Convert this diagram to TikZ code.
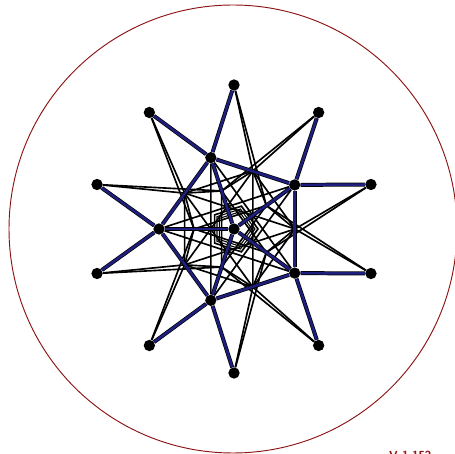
\documentclass[tikz,border=0pt]{standalone}
\usetikzlibrary{backgrounds}
\definecolor{rimred}{RGB}{140,20,20}
\definecolor{edgeblue}{RGB}{30,30,125}
\tikzset{
  vtx/.style={circle, fill=black, inner sep=0pt, minimum size=0.34cm},
  thinedge/.style={draw=black, line width=1.4pt},
  blueedge/.style={draw=black, double=edgeblue, double distance=2.2pt, line width=0.6pt},
}
\begin{document}
\begin{tikzpicture}[x=0.03cm, y=0.03cm]
\useasboundingbox (0,0) rectangle (454,454);
\begin{scope}[shift={(234,225)}]
	% vertices
	\foreach \j in {0,...,9} \node[vtx] (O\j) at (18+36*\j:144) {};
	\foreach \i in {0,...,4} \node[vtx] (P\i) at (36+72*\i:75) {};
	\node[vtx] (C) at (0,0) {};
	\foreach \i in {0,...,4} {
		\coordinate (M\i) at (72*\i:61);
		\coordinate (Q\i) at (36+72*\i:40);
	}
	\begin{scope}[on background layer]
		\draw[rimred, line width=0.8pt] (-1,0) circle (224);
		% black mesh
		\foreach \i [evaluate=\i as \a using {int(2*\i)},
		             evaluate=\i as \b using {int(mod(2*\i+9,10))},
		             evaluate=\i as \c using {int(mod(2*\i+1,10))},
		             evaluate=\i as \n using {int(mod(\i+1,5))},
		             evaluate=\i as \m using {int(mod(\i+2,5))},
		             evaluate=\i as \k using {int(mod(\i+4,5))}] in {0,...,4} {
			\draw[thinedge] (M\i) -- (O\a) (M\i) -- (O\b);
			\draw[thinedge] (P\i) -- (P\m) (M\i) -- (M\m) (M\i) -- (M\n);
			\draw[thinedge] (Q\i) -- (M\i) (Q\i) -- (M\n) (Q\i) -- (Q\m);
			\draw[thinedge] (O\c) -- (Q\n) (O\a) -- (Q\k);
		}
		% small pentagon round the centre
		\foreach \r/\w in {18/0.9pt, 21/0.9pt, 24/1.4pt}
			\draw[line width=\w] (0:\r) -- (72:\r) -- (144:\r) -- (216:\r) -- (288:\r) -- cycle;
		% blue frame
		\foreach \i [evaluate=\i as \a using {int(2*\i)},
		             evaluate=\i as \c using {int(2*\i+1)},
		             evaluate=\i as \n using {int(mod(\i+1,5))}] in {0,...,4} {
			\draw[blueedge] (C) -- (P\i);
			\draw[blueedge] (P\i) -- (P\n);
			\draw[blueedge] (P\i) -- (O\a) (P\i) -- (O\c);
		}
	\end{scope}
	\node[text=rimred, font=\sffamily\bfseries, anchor=base west] (ver) at (151,-230) {V 1.152};
\end{scope}
\end{tikzpicture}
\end{document}
